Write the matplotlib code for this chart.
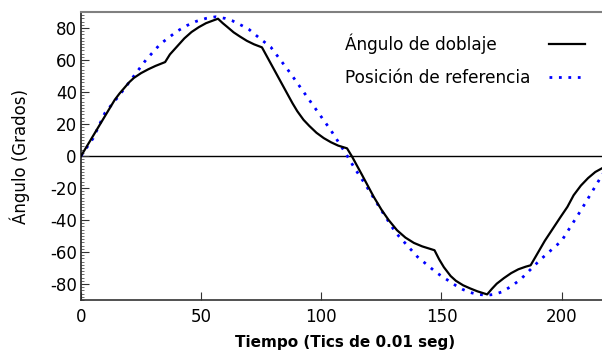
import matplotlib
matplotlib.use("Agg")
import matplotlib.pyplot as plt
from matplotlib.ticker import MultipleLocator

plt.rcParams["axes.unicode_minus"] = False

# Ángulo de doblaje (curva negra)
t_doblaje = [0, 7, 14, 16, 18, 20, 22, 25, 28, 31, 33, 35, 37, 40, 43, 46, 49, 52, 55,
             57, 59, 61, 63.5, 66, 69, 72, 75.3, 85.7, 88, 90, 92.6, 95, 98, 101, 104,
             107, 110.7, 112.8, 117, 121.8, 125, 128, 131.5, 135, 138.5, 142, 147.1,
             149, 151, 153.8, 156, 159, 162, 165, 169, 171, 173, 176, 179, 182, 185,
             187.1, 193, 199.6, 202.4, 205, 208, 211, 214, 217, 220]
ang_doblaje = [0, 17.5, 35, 39, 42.5, 46, 48.8, 51.8, 54.2, 56.3, 57.5, 58.7, 63.5, 68.5,
               73.5, 77.5, 80.5, 83, 84.7, 85.8, 83, 80.5, 77.3, 74.8, 72, 69.8, 67.9,
               39.3, 33, 28, 22.6, 18.8, 14.5, 11.2, 8.6, 6.5, 4.8, -0.4, -12, -25.5,
               -33.5, -40, -46.4, -51, -54.3, -56.5, -58.9, -64.5, -69.5, -75, -78,
               -80.8, -82.8, -84.6, -86.5, -83, -79.8, -76.3, -73.2, -70.8, -69.2,
               -68.3, -53, -38, -31.8, -24.5, -18.5, -13.8, -10, -7.5, -5.5]

# Posición de referencia (curva azul punteada)
t_ref = [0, 5, 10, 16, 22, 27, 33, 40, 44, 48, 52, 56, 60, 63, 67, 70, 74, 79, 87, 95,
         104, 110, 114, 118, 125, 131, 140, 148, 153, 156, 159, 162, 165, 169, 172, 175,
         179, 183, 191, 200, 208, 216, 220]
ang_ref = [0, 11, 27, 38, 50, 60, 70, 78, 81.5, 84.2, 86, 87, 86, 84.5, 81.5, 79, 74,
           68, 52, 35, 16, 2, -8, -17, -34, -48, -63, -73, -78, -81, -83.5, -85.3, -86.5,
           -87, -86.5, -85, -81.5, -77, -65, -53, -34, -14, -4]

x_ticks = [0, 50, 100, 150, 200]
y_ticks = [-80, -60, -40, -20, 0, 20, 40, 60, 80]

fig = plt.figure(figsize=(6.02, 3.6), dpi=100)
ax = fig.add_axes([81 / 602, 60 / 360, 528.7 / 602, 288 / 360])

ax.axhline(0, color="black", lw=1.0, zorder=1)
ax.plot(t_doblaje, ang_doblaje, color="black", lw=1.6, label="Ángulo de doblaje", zorder=3)
ax.plot(t_ref, ang_ref, color="blue", lw=2.0, dashes=(1, 2.4),
        label="Posición de referencia", zorder=2)

ax.set_xlim(0, 220)
ax.set_ylim(-90, 90)
ax.set_xticks(x_ticks)
ax.set_yticks(y_ticks)
ax.yaxis.set_minor_locator(MultipleLocator(2))

ax.tick_params(axis="both", which="major", direction="in", length=6, width=0.8,
               labelsize=12, colors="#333333", labelcolor="black")
ax.tick_params(axis="x", pad=6, top=False)
ax.tick_params(axis="y", pad=3, right=False)
ax.tick_params(axis="y", which="minor", direction="in", length=2, width=0.6, colors="#555555")

ax.spines["top"].set_color("#808080")
ax.spines["top"].set_linewidth(1.5)
ax.spines["left"].set_color("#222222")
ax.spines["left"].set_linewidth(1.2)
ax.spines["bottom"].set_color("#333333")
ax.spines["bottom"].set_linewidth(1.2)
ax.spines["right"].set_visible(False)

ax.set_ylabel("Ángulo (Grados)", fontsize=12, labelpad=14)
ax.set_xlabel("Tiempo (Tics de 0.01 seg)", fontsize=11, fontweight="bold", labelpad=6)

leg = ax.legend(loc="upper right", bbox_to_anchor=(585 / 602, 1 - 33 / 360),
                bbox_transform=fig.transFigure, frameon=False, markerfirst=False,
                fontsize=12.2, handlelength=2.15, handletextpad=1.1, labelspacing=0.92,
                borderpad=0, borderaxespad=0)

# align label texts to the left while keeping the handles in one column
fig.canvas.draw()
r = fig.canvas.get_renderer()
widths = [t.get_window_extent(r).width for t in leg.get_texts()]
rows = leg._legend_handle_box.get_children()[0].get_children()
for row, w in zip(rows, widths):
    row.sep += (max(widths) - w) / r.points_to_pixels(1.0)

fig.savefig("out.png", dpi=100)
